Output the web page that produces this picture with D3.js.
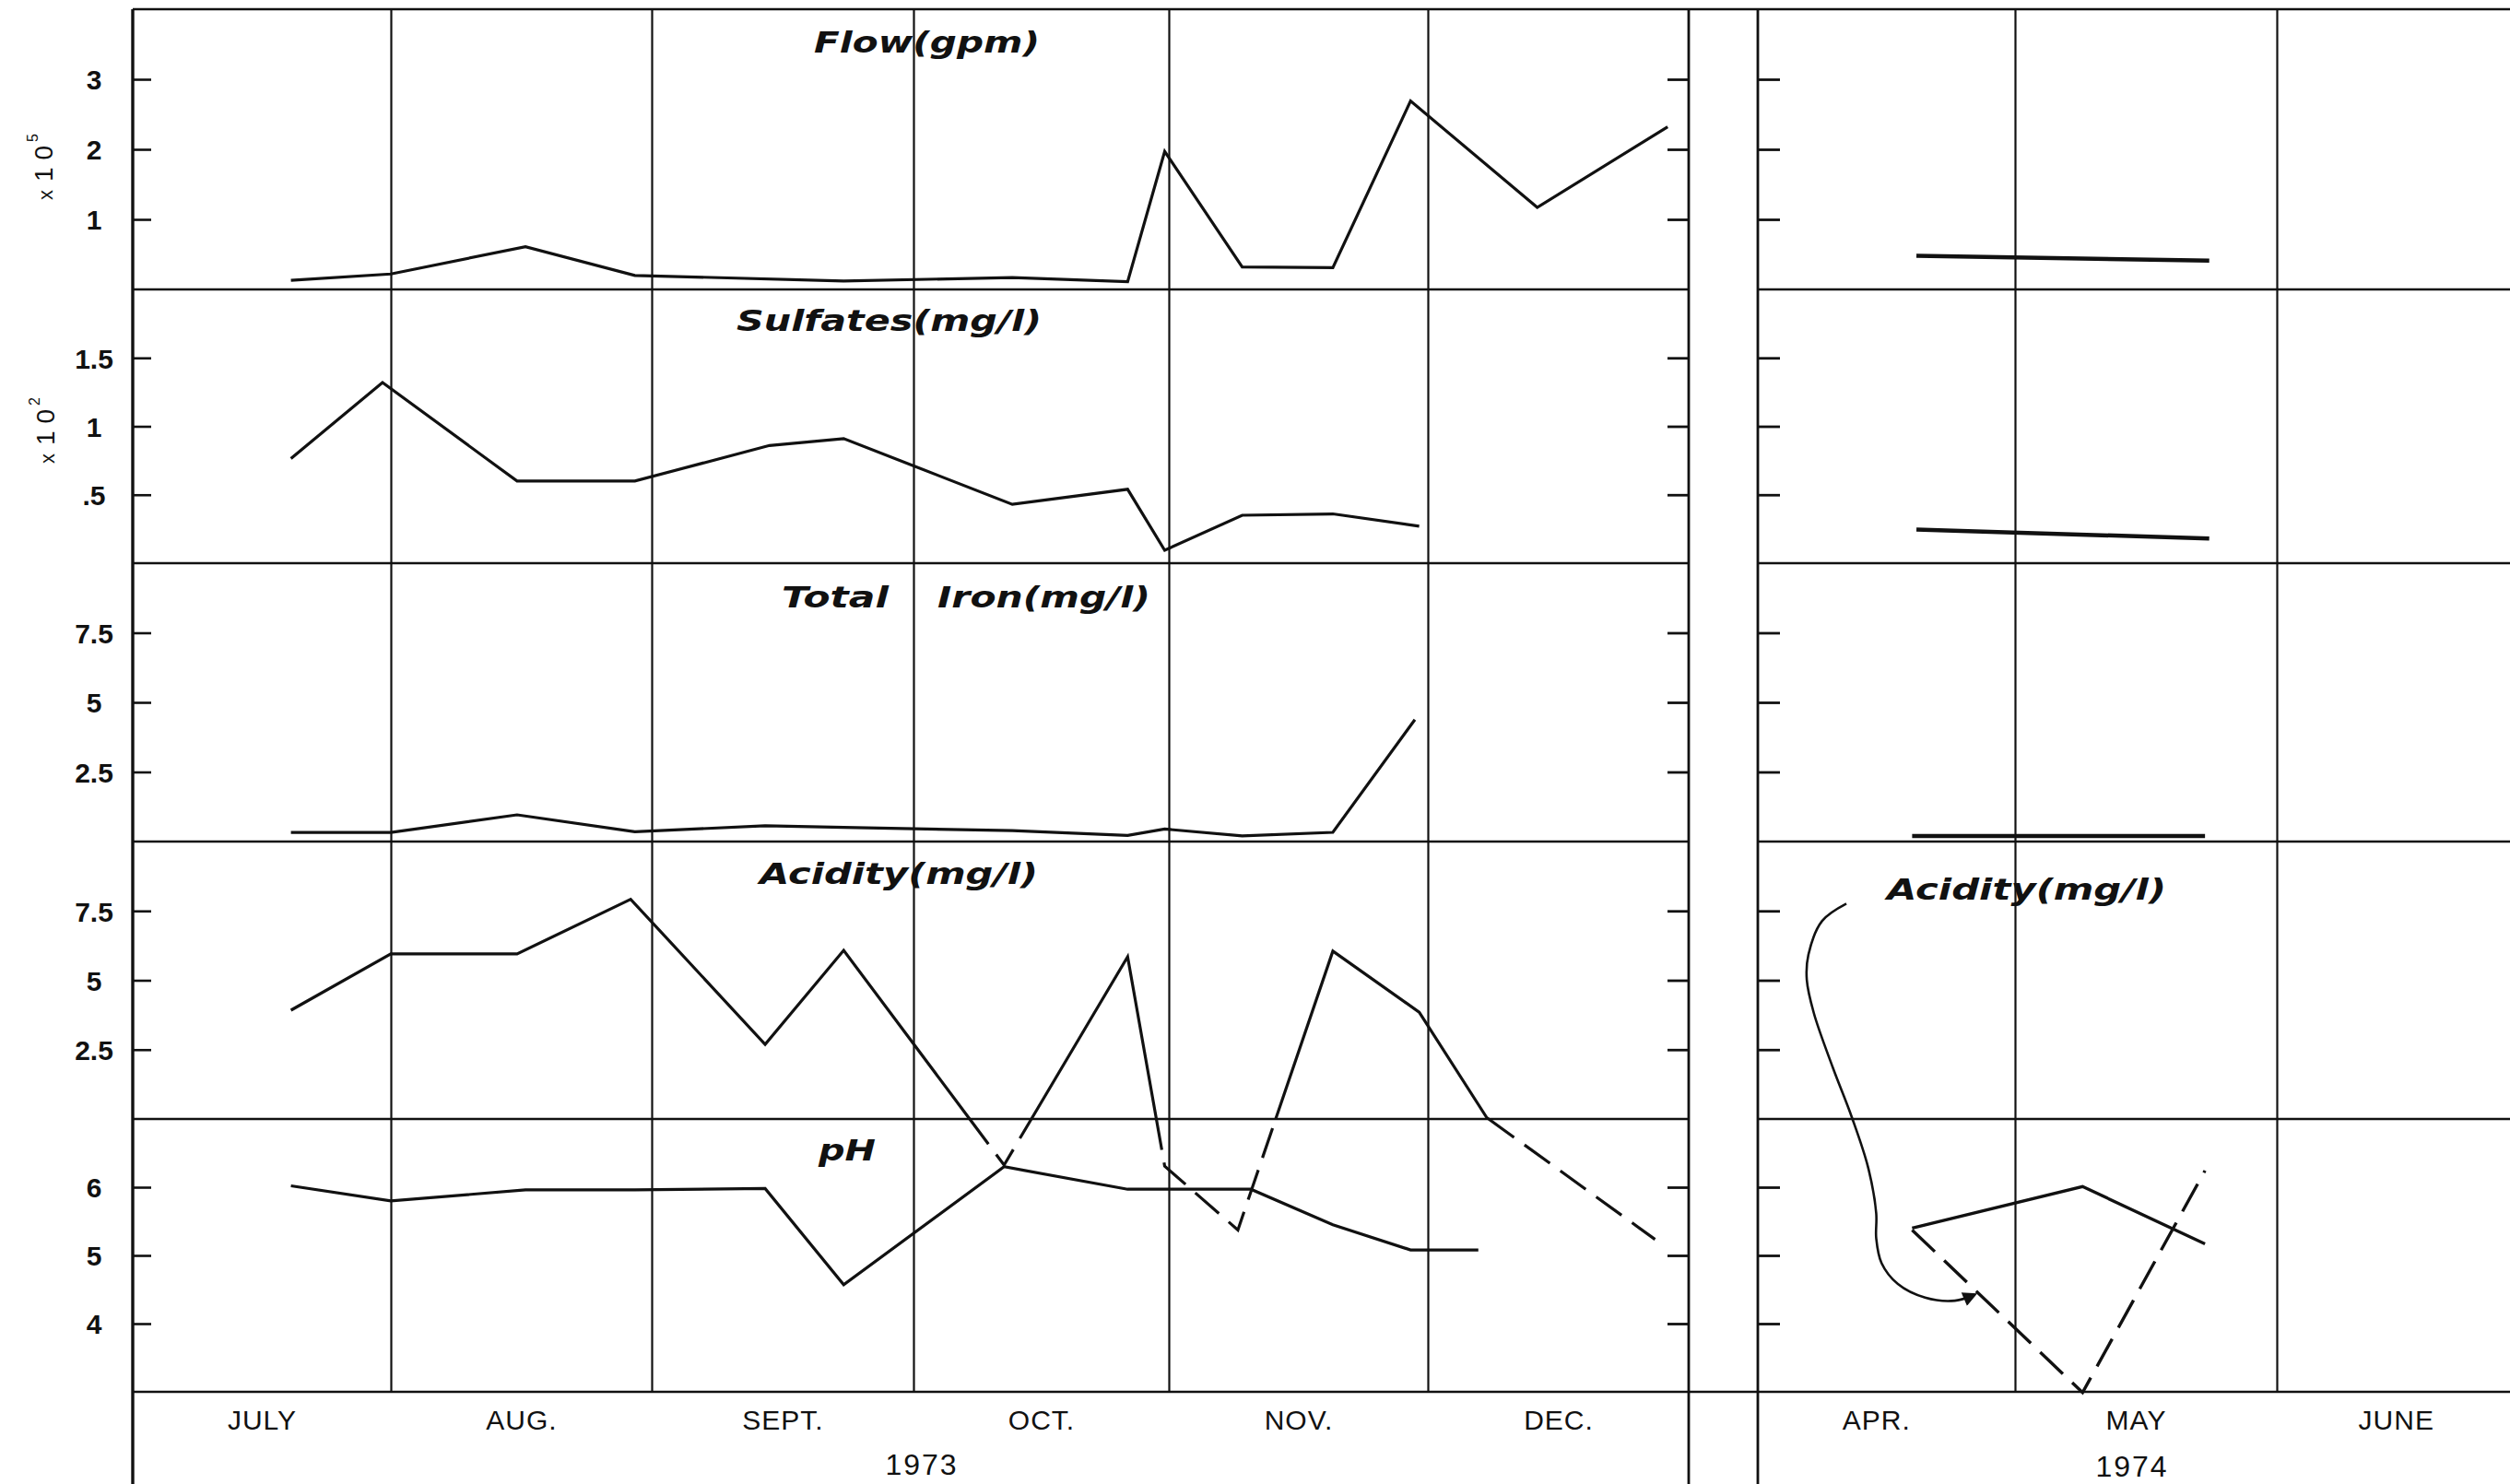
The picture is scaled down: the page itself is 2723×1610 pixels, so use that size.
<!DOCTYPE html>
<html>
<head>
<meta charset="utf-8">
<title>Flow, sulfates, iron, acidity and pH 1973-1974</title>
<script src="https://cdn.jsdelivr.net/npm/d3@7"></script>
<style>
  html, body { margin: 0; padding: 0; background: #ffffff; }
  svg { display: block; }
</style>
</head>
<body>
<svg id="chart" width="2723" height="1610"></svg>
<script>
// ================= DATA =================
const months1973 = ["JULY", "AUG.", "SEPT.", "OCT.", "NOV.", "DEC."];
const months1974 = ["APR.", "MAY", "JUNE"];
const yearLabels = ["1973", "1974"];

const panelTitles = ["Flow(gpm)", "Sulfates(mg/l)", "Total", "Iron(mg/l)", "Acidity(mg/l)", "pH"];
const noteTitle1974 = "Acidity(mg/l)";

const flowTicks = [1, 2, 3];
const flowTickLabels = ["1", "2", "3"];
const sulfateTicks = [0.5, 1, 1.5];
const sulfateTickLabels = [".5", "1", "1.5"];
const ironTicks = [2.5, 5, 7.5];
const ironTickLabels = ["2.5", "5", "7.5"];
const acidityTicks = [2.5, 5, 7.5];
const acidityTickLabels = ["2.5", "5", "7.5"];
const phTicks = [4, 5, 6];
const phTickLabels = ["4", "5", "6"];

const flowMultiplier = ["x", "10", "5"];
const sulfateMultiplier = ["x", "10", "2"];

// ---- 1973 ----
const flowDates1973 = ["1973-07-20", "1973-08-01", "1973-08-17", "1973-08-30", "1973-09-23", "1973-10-13",
  "1973-10-27", "1973-10-31T12:00Z", "1973-11-09T12:00Z", "1973-11-20", "1973-11-29", "1973-12-14", "1973-12-29T12:00Z"];
const flowValues1973 = [0.13, 0.22, 0.61, 0.20, 0.12, 0.17, 0.11, 1.97, 0.32, 0.31, 2.69, 1.17, 2.32];

const sulfateDates1973 = ["1973-07-20", "1973-07-31", "1973-08-16", "1973-08-30", "1973-09-14T12:00Z", "1973-09-23",
  "1973-10-13", "1973-10-27", "1973-10-31T12:00Z", "1973-11-09T12:00Z", "1973-11-20", "1973-11-30"];
const sulfateValues1973 = [0.765, 1.32, 0.60, 0.60, 0.86, 0.91, 0.43, 0.54, 0.094, 0.35, 0.36, 0.27];

const ironDates1973 = ["1973-07-20", "1973-08-01", "1973-08-16", "1973-08-30", "1973-09-14", "1973-09-23",
  "1973-10-13", "1973-10-27", "1973-10-31T12:00Z", "1973-11-09T12:00Z", "1973-11-20", "1973-11-29T12:00Z"];
const ironValues1973 = [0.33, 0.33, 0.96, 0.35, 0.57, 0.51, 0.39, 0.22, 0.45, 0.20, 0.33, 4.38];

const acidityDates1973 = ["1973-07-20", "1973-08-01", "1973-08-16", "1973-08-29T12:00Z", "1973-09-14", "1973-09-23",
  "1973-10-12", "1973-10-27", "1973-10-31T12:00Z", "1973-11-09", "1973-11-20", "1973-11-30", "1973-12-08", "1973-12-28"];
const acidityValues1973 = [3.92, 5.95, 5.95, 7.92, 2.69, 6.08, -1.66, 5.85, -1.70, -4.0, 6.05, 3.85, 0.05, -4.34];

const phDates1973 = ["1973-07-20", "1973-08-01", "1973-08-17", "1973-08-30", "1973-09-14", "1973-09-23",
  "1973-10-12", "1973-10-27", "1973-11-10T12:00Z", "1973-11-20", "1973-11-29", "1973-12-07"];
const phValues1973 = [6.02, 5.80, 5.96, 5.96, 5.98, 4.57, 6.30, 5.97, 5.97, 5.45, 5.08, 5.08];

// ---- 1974 ----
const flowDates1974 = ["1974-04-19T12:00Z", "1974-05-24"];
const flowValues1974 = [0.48, 0.41];
const sulfateDates1974 = ["1974-04-19T12:00Z", "1974-05-24"];
const sulfateValues1974 = [0.246, 0.18];
const ironDates1974 = ["1974-04-19", "1974-05-23T12:00Z"];
const ironValues1974 = [0.2, 0.2];
const phDates1974 = ["1974-04-19", "1974-05-09", "1974-05-23T12:00Z"];
const phValues1974 = [5.40, 6.01, 5.17];
const acidityDates1974 = ["1974-04-19", "1974-05-09", "1974-05-23T12:00Z"];
const acidityValues1974 = [-4.0, -9.86, -1.86];

// annotation arrow (days after 1 April 1974, acidity units)
const noteArrowDays = [10.33, 7.48, 5.90, 5.71, 6.53, 8.74, 10.97, 12.86, 13.81, 13.81, 14.44, 16.34, 19.51, 22.99, 25.3];
const noteArrowAcidity = [7.76, 7.13, 5.92, 5.02, 3.82, 1.86, 0.06, -1.74, -3.40, -4.30, -5.20, -5.95, -6.44, -6.55, -6.33];

// ================= LAYOUT =================
const LEFT = 144, SEC1_R = 1832, SEC2_L = 1907, RIGHT = 2723;
const TOP = 10, BOTTOM = 1510, FIG_BOTTOM = 1610;
const gridX73 = [144, 424, 707, 991, 1268, 1549, 1832];
const gridX74 = [1907, 2186, 2470, 2751];
const INK = "#111";
const TICK_FONT = "'Liberation Sans', Arial, sans-serif";
const TITLE_FONT = "'DejaVu Sans', 'Liberation Sans', sans-serif";

const parseDate = s => d3.isoParse(s);
const utc = (y, m, d) => new Date(Date.UTC(y, m, d));

const monthStarts73 = d3.utcMonths(utc(1973, 6, 1), utc(1974, 0, 2));
const monthStarts74 = d3.utcMonths(utc(1974, 3, 1), utc(1974, 6, 2));
const x73 = d3.scaleUtc().domain(monthStarts73).range(gridX73);
const x74 = d3.scaleUtc().domain(monthStarts74).range(gridX74);

const panels = [
  { key: "flow",    domain: [0, 4],  top: 10,   bottom: 314,  ticks: flowTicks,    labels: flowTickLabels },
  { key: "sulfate", domain: [0, 2],  top: 314,  bottom: 611,  ticks: sulfateTicks, labels: sulfateTickLabels },
  { key: "iron",    domain: [0, 10], top: 611,  bottom: 913,  ticks: ironTicks,    labels: ironTickLabels },
  { key: "acidity", domain: [0, 10], top: 913,  bottom: 1214, ticks: acidityTicks, labels: acidityTickLabels },
  { key: "ph",      domain: [3, 7],  top: 1214, bottom: 1510, ticks: phTicks,      labels: phTickLabels }
];
panels.forEach(p => { p.y = d3.scaleLinear().domain(p.domain).range([p.bottom, p.top]); });
const Y = Object.fromEntries(panels.map(p => [p.key, p.y]));

const svg = d3.select("#chart");
svg.append("rect").attr("width", 2723).attr("height", 1610).attr("fill", "#fff");

// ================= FRAME =================
const frame = svg.append("g").attr("stroke", INK).attr("fill", "none");
frame.append("line").attr("x1", LEFT).attr("x2", RIGHT).attr("y1", TOP).attr("y2", TOP).attr("stroke-width", 2.6);
frame.append("line").attr("x1", LEFT).attr("x2", RIGHT).attr("y1", BOTTOM).attr("y2", BOTTOM).attr("stroke-width", 2.6);
panels.slice(1).forEach(p => {
  frame.append("line").attr("x1", LEFT).attr("x2", SEC1_R).attr("y1", p.top).attr("y2", p.top).attr("stroke-width", 2.4);
  frame.append("line").attr("x1", SEC2_L).attr("x2", RIGHT).attr("y1", p.top).attr("y2", p.top).attr("stroke-width", 2.4);
});
[LEFT, SEC1_R, SEC2_L].forEach(x => {
  frame.append("line").attr("x1", x).attr("x2", x).attr("y1", TOP).attr("y2", FIG_BOTTOM)
    .attr("stroke-width", x === LEFT ? 3.4 : 2.8);
});

const grid73 = svg.append("g").attr("transform", `translate(0,${BOTTOM})`)
  .call(d3.axisBottom(x73).tickValues(monthStarts73.slice(1, -1)).tickSize(-(BOTTOM - TOP)).tickFormat(""));
const grid74 = svg.append("g").attr("transform", `translate(0,${BOTTOM})`)
  .call(d3.axisBottom(x74).tickValues(monthStarts74.slice(1, -1)).tickSize(-(BOTTOM - TOP)).tickFormat(""));
[grid73, grid74].forEach(g => {
  g.select(".domain").remove();
  g.selectAll(".tick line").attr("stroke", INK).attr("stroke-width", 2.2);
});

panels.forEach(p => {
  const gL = svg.append("g").attr("transform", `translate(${LEFT},0)`)
    .call(d3.axisLeft(p.y).tickValues(p.ticks).tickSize(-20).tickPadding(0)
      .tickFormat(d => p.labels[p.ticks.indexOf(d)]));
  gL.attr("font-size", 30).attr("font-family", TICK_FONT).attr("font-weight", "bold");
  gL.select(".domain").remove();
  gL.selectAll(".tick line").attr("stroke", INK).attr("stroke-width", 2.6);
  gL.selectAll(".tick text").attr("x", -42).attr("dy", "0.36em").attr("text-anchor", "middle").attr("fill", INK);

  const gR = svg.append("g").attr("transform", `translate(${SEC1_R},0)`)
    .call(d3.axisRight(p.y).tickValues(p.ticks).tickSize(-23).tickFormat(""));
  gR.select(".domain").remove();
  gR.selectAll(".tick line").attr("stroke", INK).attr("stroke-width", 2.8);

  const g4 = svg.append("g").attr("transform", `translate(${SEC2_L},0)`)
    .call(d3.axisLeft(p.y).tickValues(p.ticks).tickSize(-24).tickFormat(""));
  g4.select(".domain").remove();
  g4.selectAll(".tick line").attr("stroke", INK).attr("stroke-width", 2.8);
});

// multiplier labels (rotated, reading upwards)
function multiplier(parts, cx, cy) {
  const t = svg.append("text").attr("transform", `translate(${cx},${cy}) rotate(-90)`)
    .attr("text-anchor", "middle").attr("font-family", TICK_FONT).attr("font-size", 28)
    .attr("fill", INK);
  t.append("tspan").attr("font-size", 22).text(parts[0]);
  t.append("tspan").attr("dx", 9).attr("letter-spacing", 8).text(parts[1]);
  t.append("tspan").attr("font-size", 16).attr("dy", -16).attr("dx", -4).text(parts[2]);
}
multiplier(flowMultiplier, 57, 181);
multiplier(sulfateMultiplier, 59, 467);

// month and year labels
const mLab73 = svg.append("g").attr("transform", `translate(0,${BOTTOM})`)
  .call(d3.axisBottom(x73).tickValues(monthStarts73.slice(0, -1).map((d, i) =>
      new Date((+d + +monthStarts73[i + 1]) / 2))).tickSize(0)
    .tickFormat((d, i) => months1973[i]));
const mLab74 = svg.append("g").attr("transform", `translate(0,${BOTTOM})`)
  .call(d3.axisBottom(x74).tickValues(monthStarts74.slice(0, -1).map((d, i) =>
      new Date((+d + +monthStarts74[i + 1]) / 2 - 86400000 * 1.2))).tickSize(0)
    .tickFormat((d, i) => months1974[i]));
[mLab73, mLab74].forEach(g => {
  g.attr("font-size", 30).attr("font-family", TICK_FONT);
  g.select(".domain").remove();
  g.selectAll(".tick text").attr("y", 41).attr("dy", 0).attr("fill", INK).attr("letter-spacing", 1);
});
svg.append("text").attr("x", 1000).attr("y", 1600).attr("text-anchor", "middle")
  .attr("font-family", TICK_FONT).attr("font-size", 32).attr("letter-spacing", 2).attr("fill", INK).text(yearLabels[0]);
svg.append("text").attr("x", 2313).attr("y", 1602).attr("text-anchor", "middle")
  .attr("font-family", TICK_FONT).attr("font-size", 32).attr("letter-spacing", 2).attr("fill", INK).text(yearLabels[1]);

// panel titles
const titleLayout = [
  { x: 883,  y: 57,   w: 245 },
  { x: 799,  y: 359,  w: 331 },
  { x: 848,  y: 659,  w: 116 },
  { x: 1017, y: 659,  w: 231 },
  { x: 824,  y: 959,  w: 302 },
  { x: 888,  y: 1259, w: 62 }
];
function title(text, l) {
  svg.append("text").attr("x", l.x).attr("y", l.y)
    .attr("font-family", TITLE_FONT).attr("font-weight", "bold").attr("font-style", "italic")
    .attr("font-size", 32).attr("fill", INK)
    .attr("textLength", l.w).attr("lengthAdjust", "spacingAndGlyphs").text(text);
}
panelTitles.forEach((t, i) => title(t, titleLayout[i]));
title(noteTitle1974, { x: 2047, y: 976, w: 303 });

// ================= SERIES =================
function pts(dates, values, x, y) {
  return dates.map((d, i) => ({ x: x(parseDate(d)), y: y(values[i]), v: values[i] }));
}
const line = d3.line().x(d => d.x).y(d => d.y);
const plot = svg.append("g").attr("fill", "none").attr("stroke", INK)
  .attr("stroke-linejoin", "miter").attr("stroke-linecap", "butt");

function drawSolid(points, width) {
  plot.append("path").attr("d", line(points)).attr("stroke-width", width);
}

// split a series where it crosses zero: the part below zero is drawn dashed
function drawSigned(points, yZero, width) {
  const runs = [];
  let cur = null;
  points.forEach((p, i) => {
    const neg = p.v < 0;
    if (i === 0) { cur = { neg, pts: [] }; runs.push(cur); }
    else {
      const a = points[i - 1];
      if ((a.v < 0) !== neg) {
        const t = (yZero - a.y) / (p.y - a.y);
        const c = { x: a.x + t * (p.x - a.x), y: yZero };
        cur.pts.push(c);
        cur = { neg, pts: [c] };
        runs.push(cur);
      }
    }
    cur.pts.push(p);
  });
  runs.forEach(r => {
    const path = plot.append("path").attr("d", line(r.pts)).attr("stroke-width", width);
    if (r.neg) path.attr("stroke-dasharray", "34,14");
  });
}

drawSolid(pts(flowDates1973, flowValues1973, x73, Y.flow), 3.2);
drawSolid(pts(sulfateDates1973, sulfateValues1973, x73, Y.sulfate), 3.2);
drawSolid(pts(ironDates1973, ironValues1973, x73, Y.iron), 3.2);
drawSolid(pts(phDates1973, phValues1973, x73, Y.ph), 3.2);
drawSigned(pts(acidityDates1973, acidityValues1973, x73, Y.acidity), Y.acidity(0), 3.2);

drawSolid(pts(flowDates1974, flowValues1974, x74, Y.flow), 4.5);
drawSolid(pts(sulfateDates1974, sulfateValues1974, x74, Y.sulfate), 4.5);
drawSolid(pts(ironDates1974, ironValues1974, x74, Y.iron), 4.5);
drawSolid(pts(phDates1974, phValues1974, x74, Y.ph), 3.4);
drawSigned(pts(acidityDates1974, acidityValues1974, x74, Y.acidity), Y.acidity(0), 3.4);

// annotation arrow from the 1974 acidity label to its (negative) line
svg.append("defs").append("marker").attr("id", "arrowhead")
  .attr("viewBox", "0 0 10 10").attr("refX", 8).attr("refY", 5)
  .attr("markerWidth", 7).attr("markerHeight", 6).attr("markerUnits", "strokeWidth")
  .attr("orient", "auto")
  .append("path").attr("d", "M0,0 L10,5 L0,10 Z").attr("fill", INK);
const apr1 = utc(1974, 3, 1);
const arrowPts = noteArrowDays.map((d, i) => [
  x74(new Date(+apr1 + d * 86400000)), Y.acidity(noteArrowAcidity[i])
]);
svg.append("path")
  .attr("d", d3.line().curve(d3.curveCatmullRom.alpha(0.5))(arrowPts))
  .attr("fill", "none").attr("stroke", INK).attr("stroke-width", 2.6)
  .attr("marker-end", "url(#arrowhead)");
</script>
</body>
</html>
